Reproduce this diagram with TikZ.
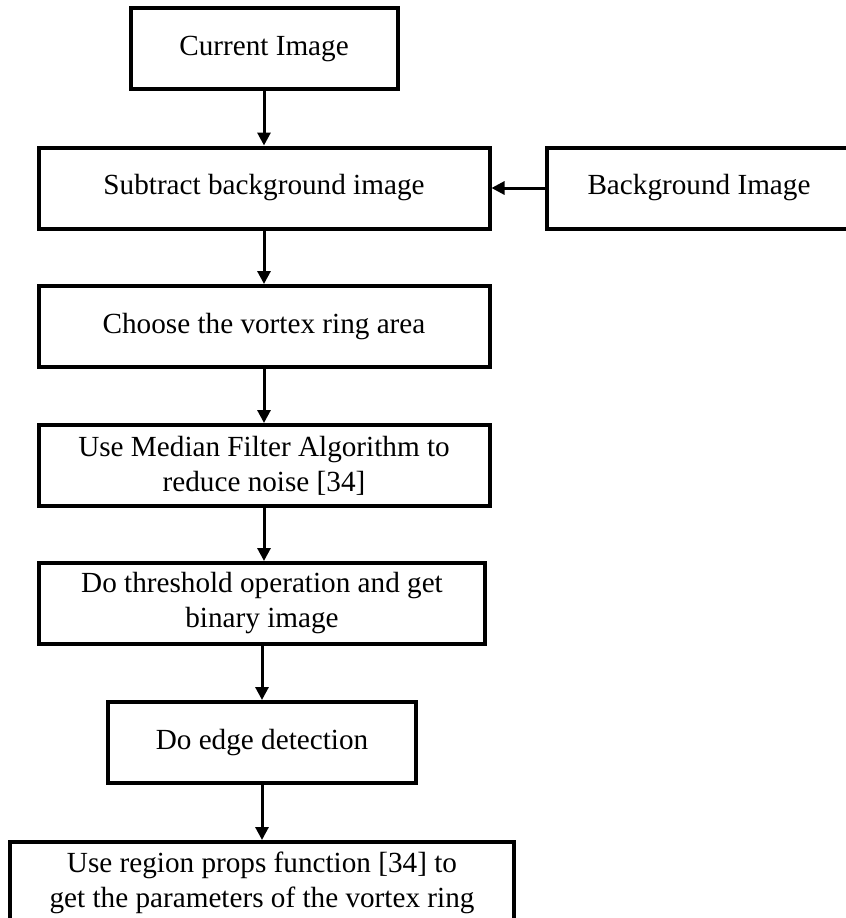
\documentclass[tikz,border=0pt]{standalone}
\usepackage{fontspec}
\setmainfont{Liberation Serif}
\usepackage{tikz}
\usetikzlibrary{positioning, arrows.meta}

\begin{document}
\begin{tikzpicture}[
  x=0.5pt, y=-0.5pt,
  font=\fontsize{14.6}{17.5}\selectfont,
  stepbox/.style={draw, line width=2pt, minimum height=40.5pt, inner sep=2pt, align=center},
  flow/.style={line width=1.5pt, -{Triangle[length=6.5pt, width=6.5pt]}}
]
\useasboundingbox (0,0) rectangle (846,918);

% Main chain
\node[stepbox, minimum width=133.5pt] (current) at (264,48.5) {Current Image};
\node[stepbox, minimum width=225.5pt] (subtract) at (264,188) {Subtract background image};
\node[stepbox, minimum width=225.5pt] (choose) at (264,326.5) {Choose the vortex ring area};
\node[stepbox, minimum width=225.5pt] (median) at (264,465.5) {Use Median Filter Algorithm to\\reduce noise [34]};
\node[stepbox, minimum width=223pt] (threshold) at (262,603.5) {Do threshold operation and get\\binary image};
\node[stepbox, minimum width=154pt] (edge) at (262,742.5) {Do edge detection};
\node[stepbox, minimum width=252pt] (props) at (262,882.5) {Use region props function [34] to\\get the parameters of the vortex ring};

% Side input
\node[stepbox, minimum width=152.5pt] (background) at (699,188) {Background Image};

% Connectors
\draw[flow] (current) -- (subtract);
\draw[flow] (background) -- (subtract);
\draw[flow] (subtract) -- (choose);
\draw[flow] (choose) -- (median);
\draw[flow] (median.south) -- (median.south |- threshold.north);
\draw[flow] (threshold) -- (edge);
\draw[flow] (edge) -- (props);
\end{tikzpicture}
\end{document}
